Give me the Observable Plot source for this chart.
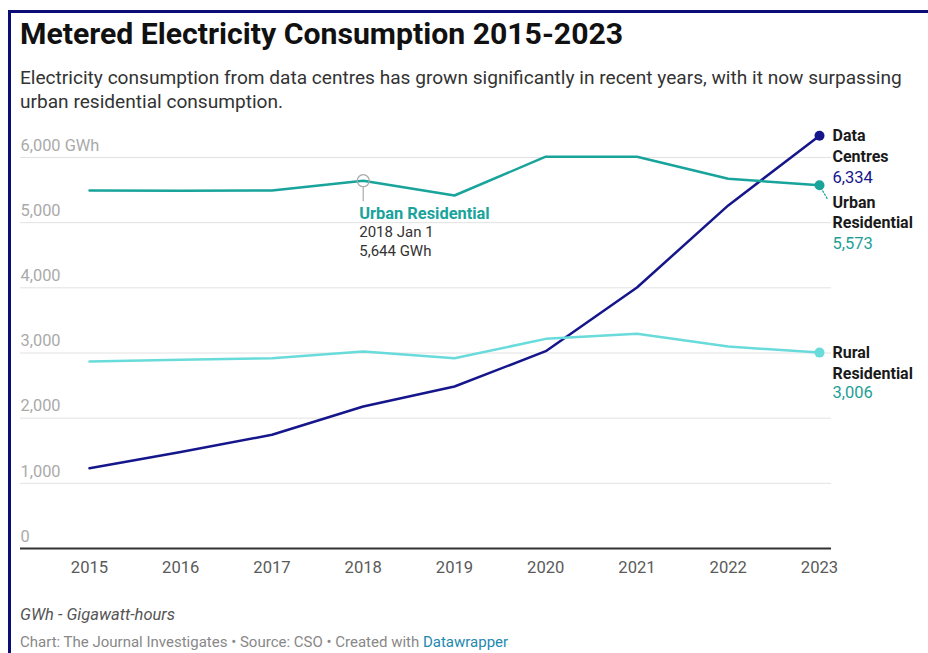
<!DOCTYPE html>
<html><head><meta charset="utf-8">
<script src="https://cdn.jsdelivr.net/npm/d3@7"></script>
<script src="https://cdn.jsdelivr.net/npm/@observablehq/plot@0.6"></script>
<style>
html,body{margin:0;padding:0;background:#fff;}
body{width:928px;height:653px;overflow:hidden;position:relative;font-family:Roboto,"Noto Sans",sans-serif;}
#frame{position:absolute;left:8px;top:10px;width:1000px;height:700px;border-left:3px solid #0c0c78;border-top:3px solid #0c0c78;}
.t{position:absolute;left:20px;white-space:nowrap;}
#title{top:16px;font-size:30.2px;line-height:36px;font-weight:700;color:#111;}
#subtitle{top:66px;font-size:19.1px;line-height:24px;color:#333;white-space:normal;width:900px;}
#notes{top:605px;font-size:16.5px;line-height:20px;color:#555;font-style:italic;}
#credit{top:632px;font-size:15px;line-height:20px;color:#888;}
#credit a{color:#2388b0;text-decoration:none;}
#chart{position:absolute;left:0;top:120px;}
</style></head>
<body>
<div id="frame"></div>
<div class="t" id="title">Metered Electricity Consumption 2015-2023</div>
<div class="t" id="subtitle">Electricity consumption from data centres has grown significantly in recent years, with it now surpassing urban residential consumption.</div>
<div id="chart"></div>
<div class="t" id="notes">GWh - Gigawatt-hours</div>
<div class="t" id="credit">Chart: The Journal Investigates • Source: CSO • Created with <a>Datawrapper</a></div>
<script>
const years = [2015, 2016, 2017, 2018, 2019, 2020, 2021, 2022, 2023];
const dataCentres = [1232, 1480, 1745, 2179, 2486, 3028, 4005, 5265, 6334];
const urbanResidential = [5493, 5490, 5493, 5644, 5417, 6012, 6012, 5675, 5573];
const ruralResidential = [2869, 2895, 2920, 3023, 2920, 3217, 3294, 3100, 3006];
const seriesNames = ["Data Centres", "Urban Residential", "Rural Residential"];
const seriesColors = ["#16168c", "#18a39b", "#6adbdb"];
const yTicks = [0, 1000, 2000, 3000, 4000, 5000, 6000];
const yTickLabels = ["0", "1,000", "2,000", "3,000", "4,000", "5,000", "6,000 GWh"];

const seriesValues = [dataCentres, urbanResidential, ruralResidential];
const rows = seriesNames.flatMap((s, i) => years.map((y, j) => ({series: s, year: y, value: seriesValues[i][j]})));
const last = seriesNames.map((s, i) => ({series: s, year: years[years.length - 1], value: seriesValues[i][years.length - 1]}));
const fmt = d3.format(",");
const nameText = d => d.series.replace(" ", "\n");
const annIdx = 3;
const ann = [{year: years[annIdx], value: urbanResidential[annIdx], series: seriesNames[1]}];

const labelStyle = {x: "year", y: "value", dx: 13, textAnchor: "start", fontSize: 16, fontWeight: 700, fill: "#1a1a1a", lineHeight: 1.31};
const valStyle = {x: "year", y: "value", dx: 13, textAnchor: "start", fontSize: 16.5, text: d => fmt(d.value)};

const chart = Plot.plot({
  width: 928, height: 470,
  marginLeft: 20, marginRight: 97, marginTop: 37, marginBottom: 42,
  style: {fontFamily: "Roboto, 'Noto Sans', sans-serif", background: "transparent"},
  x: {domain: [years[0], years[years.length - 1]], insetLeft: 69, insetRight: 12, axis: null},
  y: {domain: [0, 6000], axis: null},
  color: {domain: seriesNames, range: seriesColors},
  marks: [
    Plot.ruleY(yTicks.filter(d => d > 0), {stroke: "#e2e2e2", strokeWidth: 1}),
    Plot.ruleY([0], {stroke: "#333", strokeWidth: 2}),
    Plot.text(yTicks, {y: d => d, text: (d, i) => yTickLabels[i], frameAnchor: "left", textAnchor: "start", dy: -12, fill: "#aaa", fontSize: 16.4}),
    Plot.text(years, {x: d => d, text: d => String(d), frameAnchor: "bottom", dy: 24, fill: "#5a5a5a", fontSize: 16.6}),
    Plot.line(rows, {x: "year", y: "value", z: "series", stroke: "series", strokeWidth: 2.5}),
    // annotation
    Plot.vector(ann, {x: "year", y: "value", rotate: 180, length: 20, anchor: "start", stroke: "#bbb", strokeWidth: 1.5,
      shape: {draw(ctx, l) { ctx.moveTo(0, -6); ctx.lineTo(0, -l); }}}),
    Plot.dot(ann, {x: "year", y: "value", r: 6, stroke: "#aaa", strokeWidth: 1.3, fill: "none"}),
    Plot.text(ann, {x: "year", y: "value", text: d => d.series, dx: -4, dy: 33, textAnchor: "start", fontSize: 16.4, fontWeight: 700, fill: seriesColors[1]}),
    Plot.text(ann, {x: "year", y: "value", text: d => `${d.year} Jan 1\n${fmt(d.value)} GWh`, dx: -4, dy: 60, textAnchor: "start", fontSize: 15, fill: "#333", lineHeight: 1.27}),
    // end dots
    Plot.vector([last[1]], {x: "year", y: "value", rotate: 150, length: 15, anchor: "start", stroke: seriesColors[1], strokeWidth: 1.3, strokeDasharray: "1.5,2",
      shape: {draw(ctx, l) { ctx.moveTo(0, -3); ctx.lineTo(0, -l); }}}),
    Plot.dot(last, {x: "year", y: "value", r: 5, fill: "series"}),
    // end labels
    Plot.text([last[0]], {...labelStyle, text: nameText, dy: 9.5}),
    Plot.text([last[0]], {...valStyle, dy: 42, fill: seriesColors[0]}),
    Plot.text([last[1]], {...labelStyle, text: nameText, dy: 26}),
    Plot.text([last[1]], {...valStyle, dy: 58.5, fill: "#1e9e96"}),
    Plot.text([last[2]], {...labelStyle, text: nameText, dy: 9.5}),
    Plot.text([last[2]], {...valStyle, dy: 40, fill: "#1e9e96"})
  ]
});
document.getElementById("chart").append(chart);
</script>
</body></html>
